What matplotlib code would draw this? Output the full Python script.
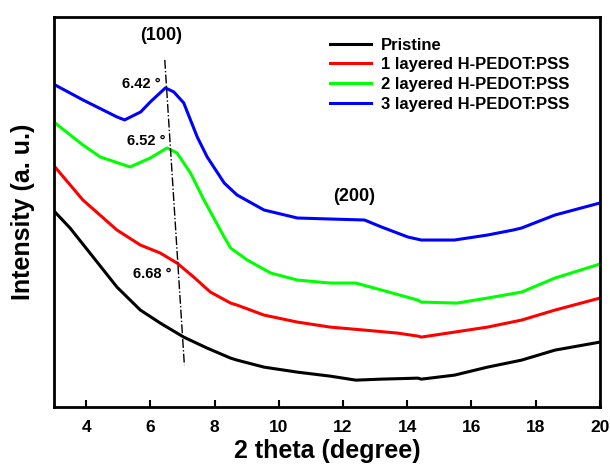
import numpy as np
import matplotlib
matplotlib.use("Agg")
import matplotlib.pyplot as plt

plt.rcParams['font.family'] = ['Liberation Sans', 'DejaVu Sans']
plt.rcParams['font.weight'] = 'bold'
plt.rcParams['axes.labelweight'] = 'bold'

# values (arbitrary intensity units)
x_pristine = [3.03, 3.5, 4.12, 4.96, 5.69, 6.31, 7.04, 7.77, 8.5, 8.7, 9.54, 10.58, 11.6, 12.4, 13.2, 14.33,
              14.44, 15.47, 16.5, 17.56, 18.6, 20.0]
y_pristine = [195, 179, 154, 120, 97, 84, 70, 59, 49, 47, 40, 35, 31, 27, 28, 29,
              28, 32, 40, 47, 57, 65]

x_1layer = [3.03, 3.9, 4.96, 5.69, 6.31, 6.83, 7.35, 7.87, 8.5, 8.7, 9.54, 10.58, 11.6, 12.67, 13.7, 14.33,
            14.44, 15.47, 16.5, 17.56, 18.6, 20.0]
y_1layer = [240, 207, 177, 162, 154, 144, 130, 115, 104, 102, 92, 85, 80, 77, 74, 71,
            70, 75, 80, 87, 97, 109]

x_2layer = [3.03, 3.9, 4.44, 5.37, 6.0, 6.52, 6.83, 7.25, 7.67, 8.3, 8.5, 9.02, 9.75, 10.58, 11.6, 12.4, 13.2,
            14.33, 14.44, 15.55, 16.5, 17.56, 18.6, 20.0]
y_2layer = [284, 262, 250, 240, 249, 259, 254, 234, 207, 170, 159, 147, 134, 127, 124, 124, 117,
            107, 105, 104, 109, 115, 129, 143]

x_3layer = [3.03, 3.9, 4.96, 5.2, 5.7, 6.0, 6.47, 6.73, 7.04, 7.46, 7.77, 8.3, 8.7, 9.54, 10.58, 11.6, 12.67,
            13.2, 14.02, 14.44, 15.47, 16.5, 17.3, 17.56, 18.6, 20.0]
y_3layer = [322, 307, 290, 287, 295, 305, 319, 315, 304, 270, 250, 224, 212, 197, 189, 188, 187,
            180, 170, 167, 167, 172, 177, 179, 192, 204]

labels = ['Pristine', '1 layered H-PEDOT:PSS', '2 layered H-PEDOT:PSS', '3 layered H-PEDOT:PSS']
colors = ['black', '#ff0000', '#00ff00', '#0000ff']

# dash-dot guide through the (100) peak
guide_x = [6.45, 7.06]
guide_y = [347, 42]

fig = plt.figure(figsize=(6.1, 4.68), dpi=100)
ax = fig.add_axes([0.0885, 0.130, 0.895, 0.834])

series = [(x_pristine, y_pristine), (x_1layer, y_1layer), (x_2layer, y_2layer), (x_3layer, y_3layer)]
for (xs, ys), lab, c in zip(series, labels, colors):
    ax.plot(xs, ys, color=c, lw=2.2, label=lab)

ax.plot(guide_x, guide_y, color='black', lw=1.0, ls='-.')

ax.text(6.34, 371, '(100)', ha='center', va='center', fontsize=13)
ax.text(12.35, 210, '(200)', ha='center', va='center', fontsize=13)
ax.text(5.72, 323, '6.42 °', ha='center', va='center', fontsize=10.5)
ax.text(5.88, 266, '6.52 °', ha='center', va='center', fontsize=10.5)
ax.text(6.07, 133, '6.68 °', ha='center', va='center', fontsize=10.5)

ax.set_xlim(3, 20)
ax.set_ylim(0, 390)
ax.set_xticks([4, 6, 8, 10, 12, 14, 16, 18, 20])
ax.set_yticks([])
ax.tick_params(axis='x', direction='in', length=5, width=1.5, labelsize=12.5, pad=9)
for s in ax.spines.values():
    s.set_linewidth(2.0)

ax.set_xlabel('2 theta (degree)', fontsize=18, labelpad=3)
ax.set_ylabel('Intensity (a. u.)', fontsize=18, labelpad=14)

leg = ax.legend(loc='upper left', bbox_to_anchor=(0.505, 0.947), frameon=False, fontsize=12,
                borderaxespad=0, borderpad=0,
                handlelength=2.5, handletextpad=0.6, labelspacing=0.28)

fig.savefig('out.png', dpi=100)
